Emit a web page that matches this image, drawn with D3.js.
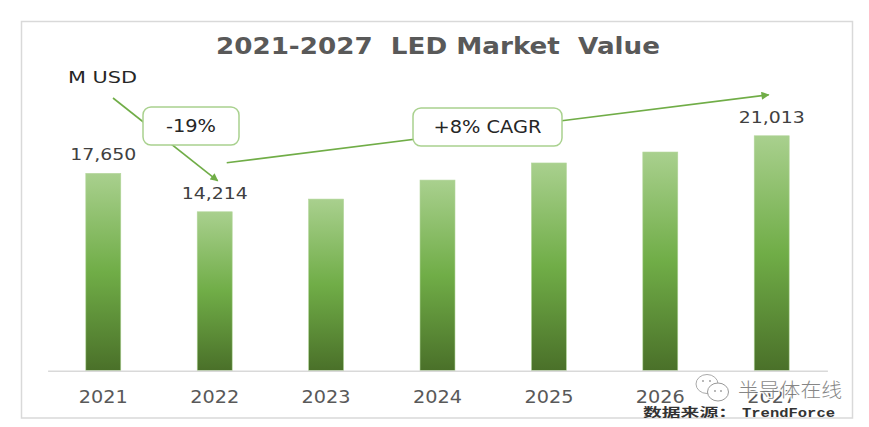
<!DOCTYPE html>
<html>
<head>
<meta charset="utf-8">
<script src="https://cdn.jsdelivr.net/npm/d3@7"></script>
<style>
html,body{margin:0;padding:0;background:#fff;}
svg{display:block;}
text{white-space:pre;}
</style>
</head>
<body>
<svg id="chart" width="869" height="427"></svg>
<script>
// ---- data ----
const years = ["2021","2022","2023","2024","2025","2026","2027"];
const values = [17650, 14214, 15350, 17050, 18580, 19560, 21013];
const labeledYears = ["2021","2022","2027"];
const valueLabels = ["17,650","14,214","21,013"];
const titleText = "2021-2027  LED Market  Value";
const unitText = "M USD";
const dropText = "-19%";
const cagrText = "+8% CAGR";
const sourceCN = "数据来源：";
const sourceEN = "TrendForce";
const watermarkText = "半导体在线";

const svg = d3.select("#chart");
const W = 869, H = 427;

// frame
svg.append("rect").attr("x",21.5).attr("y",21.5).attr("width",831).attr("height",396.5)
  .attr("fill","#fff").attr("stroke","#d9d9d9").attr("stroke-width",1.5);

// gradient
const defs = svg.append("defs");
const g = defs.append("linearGradient").attr("id","barGrad").attr("x1",0).attr("y1",0).attr("x2",0).attr("y2",1);
g.append("stop").attr("offset","0%").attr("stop-color","#a9d08e");
g.append("stop").attr("offset","50%").attr("stop-color","#70ad47");
g.append("stop").attr("offset","100%").attr("stop-color","#4a7029");
const mk = defs.append("marker").attr("id","arrow").attr("viewBox","0 0 10 10")
  .attr("refX",9).attr("refY",5).attr("markerWidth",9).attr("markerHeight",8)
  .attr("markerUnits","userSpaceOnUse").attr("orient","auto");
mk.append("path").attr("d","M0,0 L10,5 L0,10 Z").attr("fill","#70ad47");

// scales
const x = d3.scaleBand().domain(years).range([47.6, 827.4]).paddingInner(0.686).paddingOuter(0.343);
const y = d3.scaleLinear().domain([0, 22000]).range([370.7, 370.7 - 0.01118*22000]);
const cx = d => x(d) + x.bandwidth()/2;

// bars
svg.append("g").selectAll("rect").data(years).join("rect")
  .attr("x", d => x(d)).attr("width", x.bandwidth())
  .attr("y", (d,i) => y(values[i])).attr("height", (d,i) => y(0) - y(values[i]))
  .attr("fill","url(#barGrad)").attr("stroke","#b3d69b").attr("stroke-width",0.6);

// x axis
const axis = svg.append("g").attr("transform",`translate(0,${y(0)})`).call(d3.axisBottom(x).tickSize(0).tickPadding(0));
axis.select(".domain").attr("stroke","#d9d9d9").attr("stroke-width",1.6);
axis.selectAll(".tick text").attr("dy",null).attr("y",32)
  .attr("font-family","DejaVu Sans").attr("font-size",18).attr("fill","#595959")
  .attr("textLength",49).attr("lengthAdjust","spacingAndGlyphs");

// value labels
svg.append("g").selectAll("text").data(labeledYears).join("text")
  .attr("x", d => cx(d)).attr("y", d => y(values[years.indexOf(d)]) - 13)
  .attr("text-anchor","middle").attr("font-family","DejaVu Sans").attr("font-size",16)
  .attr("fill","#404040").attr("textLength",66).attr("lengthAdjust","spacingAndGlyphs")
  .text((d,i) => valueLabels[i]);

// title
svg.append("text").attr("x",438).attr("y",54).attr("text-anchor","middle")
  .attr("font-family","DejaVu Sans").attr("font-weight","bold").attr("font-size",23)
  .attr("fill","#595959").attr("textLength",444).attr("lengthAdjust","spacingAndGlyphs")
  .text(titleText);

// unit
svg.append("text").attr("x",68).attr("y",83).attr("font-family","DejaVu Sans")
  .attr("font-size",16.5).attr("fill","#262626").attr("textLength",69).attr("lengthAdjust","spacingAndGlyphs")
  .text(unitText);

// arrows (anchored to the 2022 and 2027 bars)
const a1 = {x1: 113, y1: 98, x2: cx("2022") + 3, y2: y(values[1]) - 31};
const a2 = {x1: cx("2022") + 12, y1: y(values[1]) - 49, x2: cx("2027") - 3, y2: y(values[6]) - 41};
[a1, a2].forEach(a => {
  svg.append("line").attr("x1",a.x1).attr("y1",a.y1).attr("x2",a.x2).attr("y2",a.y2)
    .attr("stroke","#70ad47").attr("stroke-width",1.6).attr("marker-end","url(#arrow)");
});

// callout boxes
function callout(x0, y0, w, h, txt, tw) {
  svg.append("rect").attr("x",x0).attr("y",y0).attr("width",w).attr("height",h)
    .attr("rx",8).attr("ry",8).attr("fill","#fff").attr("stroke","#a9d18e").attr("stroke-width",1.5);
  svg.append("text").attr("x",x0 + w/2).attr("y",y0 + 25).attr("text-anchor","middle")
    .attr("font-family","DejaVu Sans").attr("font-size",17).attr("fill","#262626")
    .attr("textLength",tw).attr("lengthAdjust","spacingAndGlyphs").text(txt);
}
callout(143, 107, 96, 38, dropText, 50);
callout(413, 108, 149, 38, cagrText, 108);

// watermark
const wm = svg.append("g");
wm.append("ellipse").attr("cx",707).attr("cy",384).attr("rx",11).attr("ry",9.5)
  .attr("fill","#fff").attr("stroke","#aaa").attr("stroke-width",1);
wm.append("ellipse").attr("cx",718).attr("cy",392).attr("rx",10.5).attr("ry",9)
  .attr("fill","#fff").attr("stroke","#999").attr("stroke-width",1);
[[703,381],[710,381],[715,391],[721,391]].forEach(p => wm.append("circle").attr("cx",p[0]).attr("cy",p[1]).attr("r",0.9).attr("fill","#999"));
wm.append("text").attr("x",738).attr("y",397).attr("font-family","Noto Sans CJK SC").attr("font-weight",300)
  .attr("font-size",19).attr("fill","#7a7a7a").attr("stroke","#fff").attr("stroke-width",2.5)
  .attr("paint-order","stroke").attr("textLength",104).attr("lengthAdjust","spacingAndGlyphs")
  .attr("opacity",0.9).text(watermarkText);

// source
svg.append("text").attr("x",643).attr("y",417).attr("font-family","Noto Sans CJK SC").attr("font-weight","bold")
  .attr("font-size",12).attr("fill","#333").attr("textLength",94).attr("lengthAdjust","spacingAndGlyphs")
  .text(sourceCN);
svg.append("text").attr("x",742).attr("y",417).attr("font-family","Liberation Mono").attr("font-weight","bold")
  .attr("font-size",13).attr("fill","#333").attr("textLength",93).attr("lengthAdjust","spacingAndGlyphs")
  .text(sourceEN);
</script>
</body>
</html>
